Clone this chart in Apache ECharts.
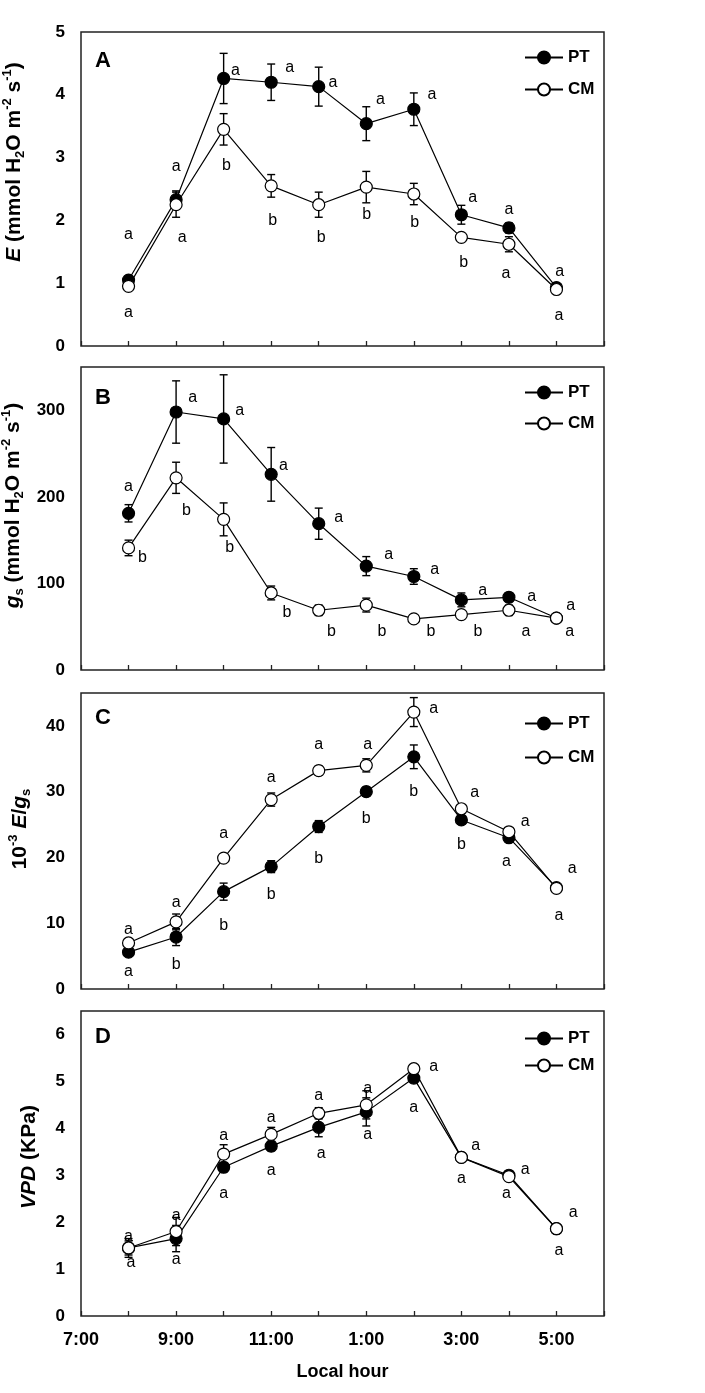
<!DOCTYPE html>
<html><head><meta charset="utf-8">
<script src="https://cdn.jsdelivr.net/npm/echarts@6/dist/echarts.min.js"></script>
<style>html,body{margin:0;padding:0;background:#fff}#c{width:705px;height:1393px}</style>
</head><body><div id="c"></div><script>
// ---------- DATA ----------
const hours = [8, 9, 10, 11, 12, 13, 14, 15, 16, 17];
const hourLabels = {7: '7:00', 9: '9:00', 11: '11:00', 13: '1:00', 15: '3:00', 17: '5:00'};
const seriesNames = ['PT', 'CM'];

// Panel A: E (mmol H2O m-2 s-1)
const ePT = [1.05, 2.33, 4.26, 4.20, 4.13, 3.54, 3.77, 2.09, 1.88, 0.93];
const ePTerr = [0.05, 0.14, 0.40, 0.29, 0.31, 0.27, 0.26, 0.15, 0.08, 0.03];
const eCM = [0.95, 2.25, 3.45, 2.55, 2.25, 2.53, 2.42, 1.73, 1.62, 0.90];
const eCMerr = [0.03, 0.20, 0.25, 0.18, 0.20, 0.25, 0.17, 0.04, 0.12, 0.03];
const eLetters = ['a','a','a','a','a','a','a','a','a','a', 'a','a','b','b','b','b','b','b','a','a'];
const eLetterX = [8.0, 9.0, 10.25, 11.39, 12.3, 13.3, 14.38, 15.24, 16.0, 17.07, 8.0, 9.13, 10.06, 11.03, 12.05, 13.01, 14.02, 15.05, 15.94, 17.05];
const eLetterY = [1.78, 2.85, 4.39, 4.43, 4.2, 3.93, 4.0, 2.36, 2.17, 1.19, 0.53, 1.72, 2.87, 2.0, 1.72, 2.09, 1.96, 1.33, 1.16, 0.49];

// Panel B: gs
const gPT = [181, 298, 290, 226, 169, 120, 108, 81, 84, 60];
const gPTerr = [10, 36, 51, 31, 18, 11, 9, 8, 5, 3];
const gCM = [141, 222, 174, 89, 69, 75, 59, 64, 69, 60];
const gCMerr = [9, 18, 19, 8, 6, 8, 3, 3, 6, 3];
const gLetters = ['a','a','a','a','a','a','a','a','a','a', 'b','b','b','b','b','b','b','b','a','a'];
const gLetterX = [8.0, 9.35, 10.34, 11.26, 12.42, 13.47, 14.44, 15.45, 16.48, 17.3, 8.29, 9.22, 10.13, 11.33, 12.27, 13.33, 14.36, 15.35, 16.36, 17.28];
const gLetterY = [212, 315, 300, 236, 176, 133, 116, 92, 85, 74, 130, 184, 141, 66, 44, 44, 44, 44, 44, 44];

// Panel C: 10^-3 E/gs
const rPT = [5.6, 7.9, 14.8, 18.6, 24.7, 30.0, 35.3, 25.7, 23.0, 15.4];
const rPTerr = [0.6, 1.3, 1.3, 0.9, 0.9, 0.7, 1.8, 0.6, 0.5, 0.4];
const rCM = [7.0, 10.2, 19.9, 28.8, 33.2, 34.0, 42.1, 27.4, 23.9, 15.3];
const rCMerr = [0.5, 1.2, 0.5, 1.0, 0.7, 1.0, 2.2, 0.3, 0.4, 0.4];
const rLetters = ['a','b','b','b','b','b','b','b','a','a', 'a','a','a','a','a','a','a','a','a','a'];
const rLetterX = [8.0, 9.0, 10.0, 11.0, 12.0, 13.0, 14.0, 15.0, 15.95, 17.05, 8.0, 9.0, 10.0, 11.0, 12.0, 13.03, 14.42, 15.28, 16.34, 17.33];
const rLetterY = [2.7, 3.7, 9.7, 14.3, 19.9, 25.9, 30.0, 21.9, 19.3, 11.1, 9.1, 13.2, 23.6, 32.1, 37.1, 37.1, 42.6, 29.8, 25.4, 18.3];

// Panel D: VPD (KPa)
const vPT = [1.45, 1.65, 3.17, 3.62, 4.02, 4.35, 5.07, 3.38, 3.00, 1.86];
const vPTerr = [0.15, 0.28, 0.10, 0.10, 0.20, 0.30, 0.10, 0.05, 0.05, 0.05];
const vCM = [1.45, 1.80, 3.45, 3.87, 4.32, 4.50, 5.27, 3.38, 2.97, 1.86];
const vCMerr = [0.20, 0.30, 0.20, 0.15, 0.12, 0.30, 0.05, 0.05, 0.05, 0.05];
const vLetters = ['a','a','a','a','a','a','a','a','a','a', 'a','a','a','a','a','a','a','a','a','a'];
const vLetterX = [8.05, 9.0, 10.0, 11.0, 12.05, 13.03, 14.0, 15.0, 15.95, 17.05, 8.0, 9.0, 10.0, 11.0, 12.0, 13.03, 14.42, 15.3, 16.34, 17.35];
const vLetterY = [1.13, 1.2, 2.6, 3.1, 3.47, 3.87, 4.45, 2.93, 2.61, 1.39, 1.7, 2.15, 3.85, 4.22, 4.7, 4.84, 5.31, 3.64, 3.13, 2.2];

// ---------- CHART ----------
const FF = 'Liberation Sans, Arial, Helvetica, sans-serif';
const chart = echarts.init(document.getElementById('c'), null, {renderer: 'canvas'});

const richName = {
  i: {fontStyle: 'italic', fontWeight: 'bold', fontSize: 21, fontFamily: FF, color: '#000', lineHeight: 26},
  sub: {fontWeight: 'bold', fontSize: 13, fontFamily: FF, color: '#000', lineHeight: 13, verticalAlign: 'bottom'},
  sup: {fontWeight: 'bold', fontSize: 13, fontFamily: FF, color: '#000', lineHeight: 13, verticalAlign: 'top'}
};

const panels = [
  {key: 'A', pt: ePT, ptErr: ePTerr, cm: eCM, cmErr: eCMerr, lt: eLetters, lx: eLetterX, ly: eLetterY,
   top: 32, height: 314, max: 5, interval: 1, labelStep: 1,
   name: '{i|E} (mmol H{sub|2}O m{sup|-2} s{sup|-1})', nameGap: 54, namePad: 54,
   legTop: 49, legGap: 15, tagTop: 50},
  {key: 'B', pt: gPT, ptErr: gPTerr, cm: gCM, cmErr: gCMerr, lt: gLetters, lx: gLetterX, ly: gLetterY,
   top: 367, height: 303, max: 350, interval: 50, labelStep: 100,
   name: '{i|g}{sub|s} (mmol H{sub|2}O m{sup|-2} s{sup|-1})', nameGap: 54, namePad: 26,
   legTop: 384, legGap: 14, tagTop: 387},
  {key: 'C', pt: rPT, ptErr: rPTerr, cm: rCM, cmErr: rCMerr, lt: rLetters, lx: rLetterX, ly: rLetterY,
   top: 693, height: 296, max: 45, interval: 5, labelStep: 10,
   name: '10{sup|-3} {i|E}/{i|g}{sub|s}', nameGap: 48, namePad: 24,
   legTop: 715, legGap: 17, tagTop: 707},
  {key: 'D', pt: vPT, ptErr: vPTerr, cm: vCM, cmErr: vCMerr, lt: vLetters, lx: vLetterX, ly: vLetterY,
   top: 1011, height: 305, max: 6.5, interval: 0.5, labelStep: 1,
   name: '{i|VPD} (KPa)', nameGap: 39, namePad: 13,
   legTop: 1030, legGap: 10, tagTop: 1026}
];

function errRender(params, api) {
  const x = api.value(0), y = api.value(1), e = api.value(2);
  const hi = api.coord([x, y + e]);
  const lo = api.coord([x, y - e]);
  const w = 4;
  const st = {stroke: '#000', lineWidth: 1.4};
  return {type: 'group', children: [
    {type: 'line', shape: {x1: hi[0], y1: hi[1], x2: lo[0], y2: lo[1]}, style: st},
    {type: 'line', shape: {x1: hi[0] - w, y1: hi[1], x2: hi[0] + w, y2: hi[1]}, style: st},
    {type: 'line', shape: {x1: lo[0] - w, y1: lo[1], x2: lo[0] + w, y2: lo[1]}, style: st}
  ]};
}
function makeLetterRender(letters) {
  return function (params, api) {
    const p = api.coord([api.value(0), api.value(1)]);
    return {type: 'text', x: p[0], y: p[1], style: {
      text: letters[params.dataIndex], align: 'center', verticalAlign: 'middle',
      fontSize: 16, fontFamily: FF, fill: '#000'}};
  };
}
function isStep(v, step) {
  const r = v / step;
  return Math.abs(r - Math.round(r)) < 1e-9;
}

const grids = [], xAxes = [], yAxes = [], series = [], legends = [], graphics = [];
panels.forEach((p, k) => {
  const last = k === panels.length - 1;
  grids.push({left: 81, right: 101, top: p.top, height: p.height, show: true,
    outerBoundsMode: 'none', containLabel: false,
    borderColor: '#222', borderWidth: 1.5, backgroundColor: 'transparent'});
  xAxes.push({gridIndex: k, type: 'value', min: 7, max: 18, interval: 1,
    axisLine: {show: false}, splitLine: {show: false},
    axisTick: {show: true, inside: true, length: 5, lineStyle: {color: '#222', width: 1.3}},
    axisLabel: {show: last, margin: 15, fontSize: 18, fontWeight: 'bold', fontFamily: FF, color: '#000',
      formatter: v => hourLabels[v] || ''},
    name: last ? 'Local hour' : '', nameLocation: 'middle', nameGap: 47,
    nameTextStyle: {fontSize: 18, fontWeight: 'bold', fontFamily: FF, color: '#000'}
  });
  yAxes.push({gridIndex: k, type: 'value', min: 0, max: p.max, interval: p.interval,
    axisLine: {show: false}, axisTick: {show: false}, splitLine: {show: false},
    axisLabel: {margin: 16, fontSize: 17, fontWeight: 'bold', fontFamily: FF, color: '#000',
      showMaxLabel: true, showMinLabel: true,
      formatter: v => isStep(v, p.labelStep) ? String(v) : ''},
    name: p.name, nameLocation: 'middle', nameRotate: 90, nameGap: p.nameGap,
    nameTextStyle: {fontSize: 21, fontWeight: 'bold', fontFamily: FF, color: '#000', lineHeight: 26,
      padding: [0, 0, 0, p.namePad], rich: richName}
  });
  const ptData = hours.map((h, i) => [h, p.pt[i]]);
  const cmData = hours.map((h, i) => [h, p.cm[i]]);
  series.push({type: 'custom', xAxisIndex: k, yAxisIndex: k, renderItem: errRender, silent: true, z: 2,
    data: hours.map((h, i) => [h, p.pt[i], p.ptErr[i]]), encode: {x: 0, y: 1}});
  series.push({type: 'custom', xAxisIndex: k, yAxisIndex: k, renderItem: errRender, silent: true, z: 2,
    data: hours.map((h, i) => [h, p.cm[i], p.cmErr[i]]), encode: {x: 0, y: 1}});
  series.push({name: 'PT', type: 'line', xAxisIndex: k, yAxisIndex: k, data: ptData, z: 3,
    symbol: 'circle', symbolSize: 12, showSymbol: true, animation: false,
    lineStyle: {color: '#000', width: 1.2}, itemStyle: {color: '#000', borderColor: '#000', borderWidth: 1.2}});
  series.push({name: 'CM', type: 'line', xAxisIndex: k, yAxisIndex: k, data: cmData, z: 4,
    symbol: 'circle', symbolSize: 12, showSymbol: true, animation: false,
    lineStyle: {color: '#000', width: 1.2}, itemStyle: {color: '#fff', borderColor: '#000', borderWidth: 1.2}});
  series.push({type: 'custom', xAxisIndex: k, yAxisIndex: k, silent: true, z: 5,
    renderItem: makeLetterRender(p.lt),
    data: p.lx.map((x, i) => [x, p.ly[i]]), encode: {x: 0, y: 1}});
  legends.push({data: seriesNames, orient: 'vertical', left: 524, top: p.legTop, itemWidth: 38, itemHeight: 15,
    itemGap: p.legGap, selectedMode: false, padding: 0,
    textStyle: {fontSize: 17, fontWeight: 'bold', fontFamily: FF, color: '#000'}});
  graphics.push({type: 'text', left: 95, top: p.tagTop,
    style: {text: p.key, fontSize: 22, fontWeight: 'bold', fontFamily: FF, fill: '#000'}});
});

chart.setOption({
  animation: false,
  backgroundColor: '#fff',
  grid: grids, xAxis: xAxes, yAxis: yAxes, series: series, legend: legends, graphic: graphics
});
</script></body></html>
